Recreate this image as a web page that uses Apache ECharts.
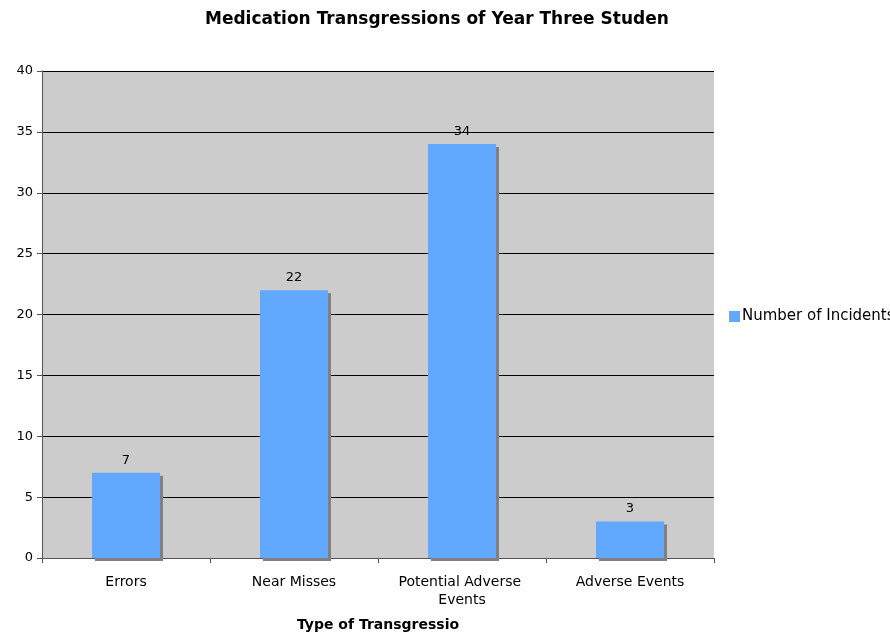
<!DOCTYPE html>
<html>
<head>
<meta charset="utf-8">
<script src="https://cdn.jsdelivr.net/npm/echarts@6/dist/echarts.min.js"></script>
<style>html,body{margin:0;padding:0;background:#fff}#c{width:890px;height:637px}</style>
</head>
<body>
<div id="c"></div>
<script>
const categories = ["Errors", "Near Misses", "Potential Adverse Events", "Adverse Events"];
const incidents = [7, 22, 34, 3];
const seriesName = "Number of Incidents";
const titleText = "Medication Transgressions of Year Three Students";
const xAxisTitle = "Type of Transgression";

const FONT = '"DejaVu Sans", Verdana, sans-serif';
// the reference clips its title boxes on the right; keep the longest prefix that fits
function clipText(text, font, maxW) {
  const ctx = document.createElement('canvas').getContext('2d');
  ctx.font = font;
  let s = text;
  while (s.length > 1 && ctx.measureText(s).width > maxW) s = s.slice(0, -1);
  return s;
}
const shownTitle = clipText(titleText, 'bold 17px ' + FONT, 466);
const shownXName = clipText(xAxisTitle, 'bold 14px ' + FONT, 168);

const chart = echarts.init(document.getElementById('c'), null, {renderer: 'canvas'});
chart.setOption({
  animation: false,
  backgroundColor: '#ffffff',
  title: {
    text: shownTitle,
    left: 205,
    top: 11,
    padding: 0,
    textStyle: { fontFamily: FONT, fontSize: 17, fontWeight: 'bold', color: '#000' }
  },
  legend: {
    left: 729, top: 309, padding: 0,
    itemWidth: 11, itemHeight: 11, itemGap: 4,
    icon: 'rect',
    textStyle: { fontFamily: FONT, fontSize: 15, color: '#000', padding: [0, 0, 0, -3] },
    data: [seriesName]
  },
  grid: { left: 42, right: 176, top: 71, bottom: 76, show: true, backgroundColor: '#cccccc', borderWidth: 0 },
  xAxis: {
    type: 'category',
    data: categories,
    name: shownXName,
    nameLocation: 'middle',
    nameGap: 60,
    nameTextStyle: { fontFamily: FONT, fontSize: 14, fontWeight: 'bold', color: '#000' },
    axisLine: { lineStyle: { color: '#555', width: 1 } },
    axisTick: { show: true, alignWithLabel: false, length: 5, lineStyle: { color: '#555' } },
    axisLabel: { interval: 0, fontFamily: FONT, fontSize: 14, color: '#000', margin: 15, width: 150, overflow: 'break', lineHeight: 18 }
  },
  yAxis: {
    type: 'value',
    min: 0, max: 40, interval: 5,
    axisLine: { show: true, lineStyle: { color: '#555', width: 1 } },
    axisTick: { show: true, length: 5, lineStyle: { color: '#555' } },
    axisLabel: { fontFamily: FONT, fontSize: 13, color: '#000', margin: 9 },
    splitLine: { show: true, lineStyle: { color: '#000', width: 1 } }
  },
  series: [{
    name: seriesName,
    type: 'bar',
    data: incidents,
    barWidth: '40.5%',
    itemStyle: {
      color: '#62a8ff',
      shadowColor: '#808080', shadowBlur: 0, shadowOffsetX: 3, shadowOffsetY: 3
    },
    label: { show: true, position: 'top', distance: 6, fontFamily: FONT, fontSize: 13, color: '#000' }
  }]
});
</script>
</body>
</html>
